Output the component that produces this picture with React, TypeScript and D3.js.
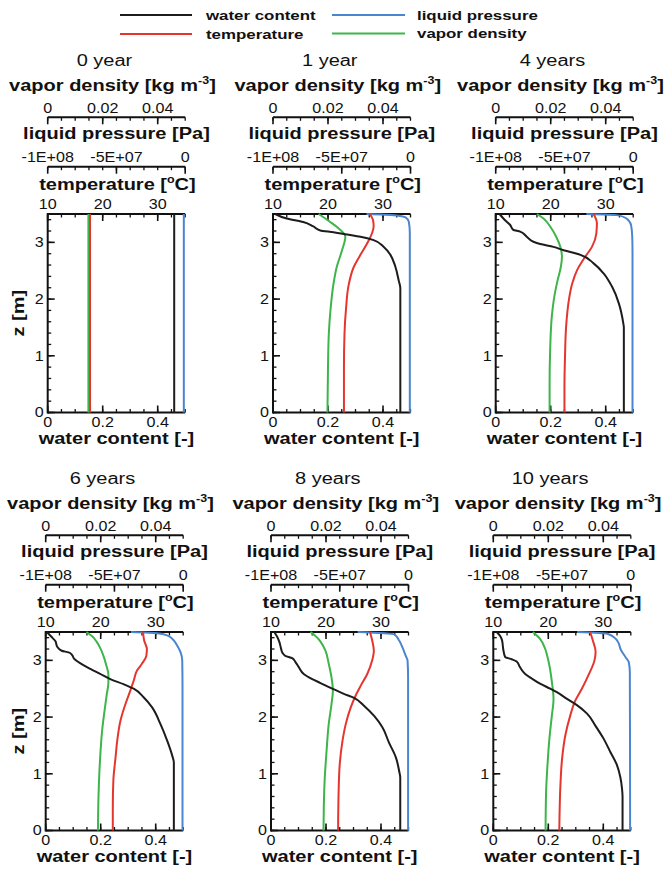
import React from 'react';
import * as d3 from 'd3';

// ---------- data: [value, z] pairs, from surface (z = 3.5 m) downward ----------
const panelTitles = ['0 year', '1 year', '4 years', '6 years', '8 years', '10 years'];

// water content [-]
const wc0 = [[0.46, 3.5], [0.46, 0]];
const wc1 = [[0.008, 3.5], [0.05, 3.42], [0.11, 3.36], [0.147, 3.28], [0.172, 3.21], [0.22, 3.18], [0.269, 3.14], [0.318, 3.1], [0.366, 3.04], [0.403, 2.92], [0.427, 2.78], [0.445, 2.57], [0.457, 2.33], [0.463, 2.19], [0.463, 0]];
const wc4 = [[0.014, 3.5], [0.034, 3.39], [0.052, 3.31], [0.064, 3.22], [0.089, 3.19], [0.113, 3.1], [0.137, 3.01], [0.162, 2.97], [0.21, 2.92], [0.247, 2.86], [0.308, 2.78], [0.356, 2.63], [0.393, 2.45], [0.423, 2.22], [0.448, 1.92], [0.464, 1.57], [0.466, 1.5], [0.466, 0]];
const wc6 = [[0.004, 3.5], [0.02, 3.42], [0.035, 3.34], [0.042, 3.24], [0.058, 3.17], [0.083, 3.14], [0.095, 3.1], [0.103, 3.03], [0.125, 2.95], [0.15, 2.88], [0.174, 2.82], [0.198, 2.76], [0.235, 2.67], [0.283, 2.58], [0.32, 2.5], [0.356, 2.35], [0.387, 2.17], [0.417, 1.88], [0.442, 1.58], [0.46, 1.32], [0.466, 1.2], [0.466, 0]];
const wc8 = [[0.012, 3.5], [0.022, 3.42], [0.03, 3.33], [0.036, 3.22], [0.041, 3.14], [0.052, 3.08], [0.077, 3.04], [0.089, 2.97], [0.101, 2.88], [0.119, 2.76], [0.15, 2.67], [0.18, 2.6], [0.223, 2.5], [0.265, 2.41], [0.302, 2.34], [0.338, 2.2], [0.375, 2.02], [0.405, 1.82], [0.429, 1.55], [0.454, 1.29], [0.466, 1.05], [0.47, 0.93], [0.47, 0]];
const wc10 = [[0.012, 3.5], [0.025, 3.43], [0.032, 3.35], [0.036, 3.2], [0.043, 3.06], [0.067, 3.02], [0.085, 2.98], [0.097, 2.88], [0.116, 2.76], [0.14, 2.68], [0.17, 2.59], [0.207, 2.5], [0.231, 2.44], [0.268, 2.32], [0.304, 2.21], [0.341, 2.06], [0.371, 1.85], [0.401, 1.62], [0.426, 1.38], [0.45, 1.15], [0.462, 0.94], [0.468, 0.74], [0.47, 0.6], [0.47, 0]];

// temperature [°C]
const t0 = [[17.7, 3.5], [17.7, 0]];
const t1 = [[27.6, 3.5], [28.2, 3.39], [28.3, 3.28], [28.0, 3.16], [27.1, 2.98], [25.9, 2.78], [24.7, 2.57], [23.7, 2.22], [23.3, 1.86], [23.0, 1.39], [22.9, 0.8], [22.9, 0]];
const t4 = [[27.8, 3.5], [28.4, 3.34], [28.3, 3.16], [27.5, 2.92], [26.3, 2.75], [24.8, 2.51], [23.9, 2.27], [23.3, 1.98], [22.8, 1.51], [22.6, 0.98], [22.5, 0.45], [22.5, 0]];
const t6 = [[27.7, 3.5], [27.9, 3.35], [28.4, 3.2], [28.3, 3.08], [27.5, 2.94], [26.6, 2.82], [26.0, 2.64], [25.4, 2.47], [24.5, 2.23], [23.6, 1.94], [23.0, 1.58], [22.7, 1.29], [22.3, 0.88], [22.2, 0.4], [22.2, 0]];
const t8 = [[28.0, 3.5], [28.4, 3.35], [28.7, 3.17], [28.4, 3.0], [27.5, 2.76], [26.3, 2.55], [25.4, 2.38], [24.5, 2.17], [23.6, 1.88], [23.0, 1.58], [22.5, 1.17], [22.3, 0.7], [22.2, 0]];
const t10 = [[27.6, 3.5], [28.1, 3.35], [28.6, 3.15], [28.4, 3.0], [27.3, 2.74], [26.1, 2.5], [24.9, 2.29], [24.0, 2.03], [23.1, 1.68], [22.5, 1.26], [22.2, 0.79], [22.0, 0]];

// vapor density [kg m-3]
const v0 = [[0.0148, 3.5], [0.0148, 0]];
const v1 = [[0.0166, 3.5], [0.0208, 3.36], [0.0238, 3.25], [0.0257, 3.16], [0.0263, 3.1], [0.0251, 2.86], [0.0232, 2.57], [0.022, 2.27], [0.021, 1.86], [0.0203, 1.39], [0.02, 0.8], [0.0198, 0]];
const v4 = [[0.015, 3.5], [0.0174, 3.42], [0.0198, 3.28], [0.022, 3.1], [0.0235, 2.92], [0.0241, 2.75], [0.0237, 2.57], [0.0225, 2.33], [0.0213, 2.04], [0.0204, 1.69], [0.0198, 1.1], [0.0196, 0.51], [0.0196, 0]];
const v6 = [[0.0148, 3.5], [0.017, 3.42], [0.0185, 3.33], [0.0198, 3.22], [0.021, 3.08], [0.022, 2.92], [0.0228, 2.75], [0.0228, 2.6], [0.0222, 2.4], [0.0215, 2.15], [0.0205, 1.75], [0.0197, 1.2], [0.0192, 0.6], [0.019, 0]];
const v8 = [[0.0144, 3.5], [0.0168, 3.4], [0.018, 3.33], [0.0198, 3.17], [0.021, 2.94], [0.022, 2.7], [0.0225, 2.47], [0.022, 2.23], [0.021, 1.88], [0.0202, 1.4], [0.0195, 0.88], [0.0192, 0.4], [0.0191, 0]];
const v10 = [[0.0144, 3.5], [0.017, 3.38], [0.0189, 3.2], [0.0195, 3.1], [0.0204, 2.91], [0.0213, 2.62], [0.0219, 2.32], [0.0213, 2.03], [0.0204, 1.62], [0.0197, 1.15], [0.0192, 0.68], [0.019, 0]];

// liquid pressure [Pa]
const p0 = [[-1e6, 3.5], [-1e6, 0]];
const p1 = [[-3.2e7, 3.5], [-1.2e7, 3.48], [-3.6e6, 3.44], [-1.2e6, 3.36], [-5e5, 3.16], [-5e5, 0]];
const p4 = [[-3.4e7, 3.5], [-1.2e7, 3.48], [-4.9e6, 3.42], [-1.5e6, 3.3], [-7e5, 3.1], [-5e5, 2.8], [-5e5, 0]];
const p6 = [[-3.8e7, 3.5], [-1.9e7, 3.48], [-1.17e7, 3.44], [-6.8e6, 3.35], [-4.4e6, 3.26], [-1.9e6, 3.14], [-7e5, 3.0], [-5e5, 2.5], [-5e5, 0]];
const p8 = [[-3.7e7, 3.5], [-1.05e7, 3.46], [-6.8e6, 3.35], [-4.4e6, 3.23], [-2e6, 3.08], [-7e5, 3.0], [-3e5, 2.7], [-3e5, 0]];
const p10 = [[-3.9e7, 3.5], [-1.7e7, 3.47], [-1.1e7, 3.38], [-8.8e6, 3.3], [-7.5e6, 3.2], [-5.6e6, 3.12], [-3.9e6, 3.06], [-1.5e6, 2.97], [-7e5, 2.79], [-5e5, 0]];

// axes
const waterTicks = [0, 0.2, 0.4];
const waterTickLabels = ['0', '0.2', '0.4'];
const tempTicks = [10, 20, 30];
const tempTickLabels = ['10', '20', '30'];
const vaporTicks = [0, 0.02, 0.04];
const vaporTickLabels = ['0', '0.02', '0.04'];
const pressureTicks = [-1e8, -5e7, 0];
const pressureTickLabels = ['-1E+08', '-5E+07', '0'];
const zTicks = [0, 1, 2, 3];
const zTickLabels = ['0', '1', '2', '3'];

const legendNames = ['water content', 'liquid pressure', 'temperature', 'vapor density'];

const waterSeries = [wc0, wc1, wc4, wc6, wc8, wc10];
const tempSeries = [t0, t1, t4, t6, t8, t10];
const vaporSeries = [v0, v1, v4, v6, v8, v10];
const pressureSeries = [p0, p1, p4, p6, p8, p10];

// ---------- styling ----------
const FONT = '"Liberation Sans", Arial, Helvetica, sans-serif';
const SX = 1.25;
const TSX = 1.15;
const TICK_FS = 14;
const C_BLACK = '#1c1c1c';
const C_RED = '#e5352f';
const C_GREEN = '#3db54a';
const C_BLUE = '#4a86cf';

type TxtProps = { x: number; y: number; size: number; bold?: boolean; anchor?: string; rotate?: boolean; sx?: number; children: any };
function Txt({ x, y, size, bold, anchor = 'middle', rotate, sx = SX, children }: TxtProps) {
  const tr = `translate(${x},${y})${rotate ? ' rotate(-90)' : ''} scale(${sx},1)`;
  return (
    <text transform={tr} fontSize={size} fontWeight={bold ? 'bold' : 'normal'} textAnchor={anchor as any}
      dy="0.35em" fontFamily={FONT} fill="#111">{children}</text>
  );
}

function HAxis({ scale, y, majors, labels, minorStep, dir, labelDy }: any) {
  const [d0, d1] = scale.domain();
  const minors = d3.range(d0, d1 + minorStep * 0.01, minorStep);
  const r = scale.range();
  return (
    <g>
      <line x1={r[0]} x2={r[1]} y1={y} y2={y} stroke="#111" strokeWidth={2} />
      {minors.map((m: number, i: number) => (
        <line key={'m' + i} x1={scale(m)} x2={scale(m)} y1={y} y2={y + dir * 3.5} stroke="#111" strokeWidth={1.3} />
      ))}
      {majors.map((m: number, i: number) => (
        <line key={'M' + i} x1={scale(m)} x2={scale(m)} y1={y} y2={y + dir * 7} stroke="#111" strokeWidth={1.6} />
      ))}
      {majors.map((m: number, i: number) => (
        <Txt key={'t' + i} x={scale(m)} y={y + labelDy} size={TICK_FS} sx={TSX}>{labels[i]}</Txt>
      ))}
    </g>
  );
}

function Panel({ idx, left, top, bottom, width, showZLabel }: any) {
  const right = left + width;
  const xW = d3.scaleLinear().domain([0, 0.5]).range([left, right]);
  const xT = d3.scaleLinear().domain([10, 35]).range([left, right]);
  const xV = d3.scaleLinear().domain([0, 0.05]).range([left, right]);
  const xP = d3.scaleLinear().domain([-1e8, 0]).range([left, right]);
  const yZ = d3.scaleLinear().domain([0, 3.5]).range([bottom, top]);
  const off = top - 214;
  const cx = left + width / 2;

  const mk = (xs: any) => d3.line<number[]>().x(d => xs(d[0])).y(d => yZ(d[1])).curve(d3.curveMonotoneY);

  const zMinors = d3.range(0, 3.5 + 0.001, 0.2);

  return (
    <g>
      <Txt x={cx - 12} y={60 + off} size={16}>{panelTitles[idx]}</Txt>
      <Txt x={cx - 4} y={85 + off} size={16} bold>
        vapor density [kg m<tspan dy="-7" fontSize="10">-3</tspan><tspan dy="7">]</tspan>
      </Txt>
      <HAxis scale={xV} y={117.3 + off} majors={vaporTicks} labels={vaporTickLabels} minorStep={0.005} dir={1} labelDy={-9.5} />
      <Txt x={cx} y={133.5 + off} size={16} bold>liquid pressure [Pa]</Txt>
      <HAxis scale={xP} y={166.7 + off} majors={pressureTicks} labels={pressureTickLabels} minorStep={1e7} dir={1} labelDy={-9.5} />
      <Txt x={cx + 1} y={184 + off} size={16} bold>
        temperature [<tspan dy="-7" fontSize="10">o</tspan><tspan dy="7">C]</tspan>
      </Txt>
      <HAxis scale={xT} y={top} majors={tempTicks} labels={tempTickLabels} minorStep={2.5} dir={1} labelDy={-9.5} />
      <HAxis scale={xW} y={bottom} majors={waterTicks} labels={waterTickLabels} minorStep={0.05} dir={-1} labelDy={10} />
      <Txt x={cx} y={bottom + 25.5} size={16} bold>water content [-]</Txt>

      {/* left z axis */}
      <line x1={left} x2={left} y1={bottom + 1} y2={top - 1} stroke="#111" strokeWidth={2} />
      {zMinors.map((m, i) => (
        <line key={'zm' + i} x1={left} x2={left + 3.5} y1={yZ(m)} y2={yZ(m)} stroke="#111" strokeWidth={1.3} />
      ))}
      {zTicks.map((m, i) => (
        <line key={'zM' + i} x1={left} x2={left + 7} y1={yZ(m)} y2={yZ(m)} stroke="#111" strokeWidth={1.6} />
      ))}
      {zTicks.map((m, i) => (
        <Txt key={'zt' + i} x={left - 4} y={yZ(m)} size={TICK_FS} sx={TSX} anchor="end">{zTickLabels[i]}</Txt>
      ))}
      {showZLabel && (
        <Txt x={18} y={(top + bottom) / 2} size={16} bold rotate>z [m]</Txt>
      )}

      <path d={mk(xP)(pressureSeries[idx] as any) || ''} fill="none" stroke={C_BLUE} strokeWidth={2} />
      <path d={mk(xV)(vaporSeries[idx] as any) || ''} fill="none" stroke={C_GREEN} strokeWidth={2} />
      <path d={mk(xT)(tempSeries[idx] as any) || ''} fill="none" stroke={C_RED} strokeWidth={2} />
      <path d={mk(xW)(waterSeries[idx] as any) || ''} fill="none" stroke={C_BLACK} strokeWidth={2} />
    </g>
  );
}

export default function App() {
  const rows = [
    { top: 214, bottom: 412.5, lefts: [47.7, 273, 495.7] },
    { top: 632, bottom: 830.5, lefts: [45.7, 271, 493.3] },
  ];
  const PW = 137.5;
  const legendColors = [C_BLACK, C_BLUE, C_RED, C_GREEN];
  const legendPos = [
    { x1: 120, x2: 192, y: 15, tx: 206 },
    { x1: 332, x2: 405, y: 15, tx: 417 },
    { x1: 120, x2: 192, y: 34, tx: 206 },
    { x1: 332, x2: 405, y: 33.5, tx: 417 },
  ];
  return (
    <svg width={672} height={871} style={{ position: 'absolute', left: 0, top: 0, background: '#fff' }}>
      <rect width={672} height={871} fill="#fff" />
      {legendNames.map((n, i) => (
        <g key={n}>
          <line x1={legendPos[i].x1} x2={legendPos[i].x2} y1={legendPos[i].y} y2={legendPos[i].y} stroke={legendColors[i]} strokeWidth={2.2} />
          <Txt x={legendPos[i].tx} y={legendPos[i].y} size={13.5} bold anchor="start">{n}</Txt>
        </g>
      ))}
      {rows.map((r, ri) =>
        r.lefts.map((l, ci) => (
          <Panel key={ri * 3 + ci} idx={ri * 3 + ci} left={l} top={r.top} bottom={r.bottom} width={PW} showZLabel={ci === 0} />
        ))
      )}
    </svg>
  );
}
